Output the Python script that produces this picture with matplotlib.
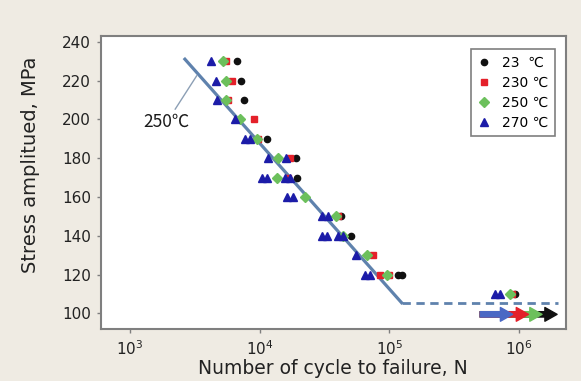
"""
S-N curve: stress amplitude vs. number of cycles to failure
for four test temperatures, with the 250 C fit line and run-outs.
"""
import numpy as np
import matplotlib.pyplot as plt
from matplotlib.lines import Line2D

# --- data ------------------------------------------------------------------
# 23 C
n_23 = [6710, 7130, 7570, 11450, 19060, 19500, 42100, 50300, 117000, 124000,
        929000]
s_23 = [230, 220, 210, 190, 180, 170, 150, 140, 120, 120, 110]

# 230 C
n_230 = [5500, 6080, 5660, 9040, 9750, 17130, 16500, 40000, 74300, 84500,
         100000, 880000]
s_230 = [230, 220, 210, 200, 190, 180, 170, 150, 130, 120, 120, 110]

# 250 C
n_250 = [5190, 5500, 5500, 7080, 9500, 13930, 13530, 22300, 38700, 44000,
         66800, 95300, 851000]
s_250 = [230, 220, 210, 200, 190, 180, 170, 160, 150, 140, 130, 120, 110]

# 270 C
n_270 = [4190, 4600, 4710, 6450, 7710, 8410, 11650, 15960, 10350, 11450,
         15670, 17130, 16150, 17960, 30060, 33800, 30100, 33200, 40400, 44200,
         55200, 64900, 70800, 651000, 713000]
s_270 = [230, 220, 210, 200, 190, 190, 180, 180, 170, 170, 170, 170, 160, 160,
         150, 150, 140, 140, 140, 140, 130, 120, 120, 110, 110]

# run-outs (no failure), drawn as arrows
runout_start = 5.0e5
runout_end = [1.96e6, 1.5e6, 1.18e6, 8.9e5]   # 23, 250, 230, 270 C
runout_s = 99.5

# 250 C fit line: sloped part then endurance limit
fit_n = [2650, 124000]
fit_s = [231, 105.5]
limit_n = [124000, 2.0e6]
limit_s = [105.5, 105.5]

legend_labels = ['23  \u2103', '230 \u2103', '250 \u2103', '270 \u2103']

# --- styles -----------------------------------------------------------------
BG = '#efebe3'
FRAME = '#7f7f7f'
C_BLACK = '#111111'
C_RED = '#e4202a'
C_GREEN = '#6cc05c'
C_BLUE = '#1c1ca8'
C_FIT = '#5f82ad'

plt.rcParams['font.family'] = ['DejaVu Sans', 'Noto Sans CJK KR']

fig = plt.figure(figsize=(5.81, 3.81), dpi=100, facecolor=BG)
ax = fig.add_axes([0.1733, 0.1357, 0.8007, 0.7706])
ax.set_facecolor('white')

ax.set_xscale('log')
ax.set_xlim(10 ** 2.774, 10 ** 6.36)
ax.set_ylim(91.8, 243.1)

# fit line + dashed fatigue limit
ax.plot(fit_n, fit_s, color=C_FIT, lw=2.3, zorder=2)
ax.plot(limit_n, limit_s, color=C_FIT, lw=2.0, ls=(0, (3, 2)), zorder=2)

# run-out arrows
arrow_cols = [C_BLACK, C_GREEN, C_RED, '#4a68c4']
for x_end, col in zip(runout_end, arrow_cols):
    ax.annotate('', xy=(x_end, runout_s), xytext=(runout_start, runout_s),
                arrowprops=dict(arrowstyle='simple,head_width=0.9,'
                                'head_length=0.8,tail_width=0.35',
                                color=col, mutation_scale=11,
                                shrinkA=0, shrinkB=0),
                zorder=3)

# data points
ax.plot(n_23, s_23, 'o', color=C_BLACK, ms=4.5, zorder=4)
ax.plot(n_230, s_230, 's', color=C_RED, ms=5, zorder=5)
ax.plot(n_250, s_250, 'D', color=C_GREEN, ms=5, zorder=6)
ax.plot(n_270, s_270, '^', color=C_BLUE, ms=6, zorder=7)

# label for the fit line
ax.annotate('250\u2103', xy=(3270, 222.5), xytext=(1920, 198.5),
            ha='center', va='center', fontsize=12.5, color='#1a1a1a',
            family=['Noto Sans CJK KR', 'DejaVu Sans'],
            arrowprops=dict(arrowstyle='-', color='#8c9fb5', lw=1.0,
                            shrinkA=1, shrinkB=0))

# axes formatting
ax.set_yticks(np.arange(100, 241, 20))
ax.set_xticks([1e3, 1e4, 1e5, 1e6])
ax.xaxis.set_minor_locator(plt.NullLocator())
ax.tick_params(axis='both', colors=FRAME, labelcolor='#222222',
               labelsize=11, length=3, width=1, pad=4)
for sp in ax.spines.values():
    sp.set_color(FRAME)
    sp.set_linewidth(1.5)

ax.set_xlabel('Number of cycle to failure, N', fontsize=13.5, color='#222222')
ax.set_ylabel('Stress amplitued, MPa', fontsize=14, color='#222222')
ax.xaxis.set_label_coords(0.5, -0.1)
ax.yaxis.set_label_coords(-0.13, 0.56)

handles = [
    Line2D([], [], ls='none', marker='o', color=C_BLACK, ms=4.5),
    Line2D([], [], ls='none', marker='s', color=C_RED, ms=5),
    Line2D([], [], ls='none', marker='D', color=C_GREEN, ms=5),
    Line2D([], [], ls='none', marker='^', color=C_BLUE, ms=6),
]
leg = ax.legend(handles, legend_labels, loc='upper right',
                bbox_to_anchor=(0.976, 0.954), borderaxespad=0,
                fontsize=10, fancybox=False, framealpha=1,
                edgecolor=FRAME, handlelength=1.0, handletextpad=0.8,
                labelspacing=0.45, borderpad=0.45)
leg.get_frame().set_linewidth(1.2)

fig.savefig('out.png', dpi=100, facecolor=BG)
